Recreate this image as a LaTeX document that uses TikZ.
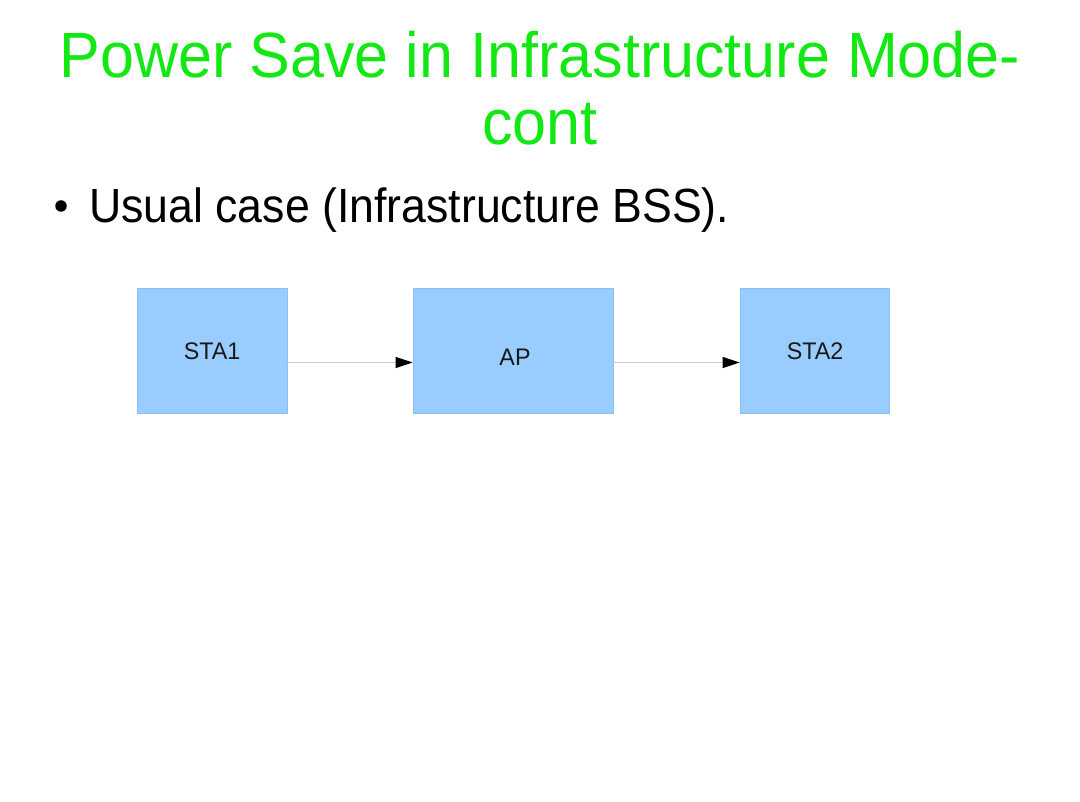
\documentclass[tikz,border=0pt]{standalone}
\usepackage{fontspec}
\setmainfont{Liberation Sans}
\usetikzlibrary{arrows.meta}
\definecolor{titlegreen}{RGB}{20,232,20}
\definecolor{boxfill}{RGB}{153,204,255}
\definecolor{boxdraw}{RGB}{140,190,240}
\definecolor{linegray}{RGB}{205,205,205}
\tikzset{
  box/.style={draw=boxdraw, fill=boxfill, line width=0.8pt, inner sep=0pt},
  boxlabel/.style={font=\fontsize{24}{28}\selectfont, text=black!90, inner sep=0pt, xscale=0.97},
  titletext/.style={anchor=base, text=titlegreen, font=\fontsize{64}{70}\selectfont, inner sep=0pt, xscale=0.954},
  conn/.style={draw=linegray, line width=1pt, -{Triangle[length=17pt,width=11pt,color=black]}},
}
\begin{document}
\begin{tikzpicture}[x=1pt,y=-1pt]
\useasboundingbox[fill=white] (0,0) rectangle (1080,802);
% title
\node[titletext] (title1) at (540,78) {Power Save in Infrastructure Mode-};
\node[titletext] (title2) at (540,145) {cont};
% bullet
\node[circle, fill=black, inner sep=0pt, outer sep=0pt, minimum size=11.5pt] (bullet) at (61,206) {};
\node[anchor=base west, font=\fontsize{48}{52}\selectfont, inner sep=0pt, xscale=0.93] (bul) at (89,223) {Usual case (Infrastructure BSS).};
% boxes
\node[box, minimum width=150pt, minimum height=125pt] (sta1) at (212,350.5) {};
\node[box, minimum width=200pt, minimum height=125pt] (ap) at (513,350.5) {};
\node[box, minimum width=149pt, minimum height=125pt] (sta2) at (814.5,350.5) {};
\node[boxlabel] (l1) at (212,351) {STA1};
\node[boxlabel] (l2) at (515,357) {AP};
\node[boxlabel] (l3) at (815,351) {STA2};
% connectors
\draw[conn] ([yshift=-12pt]sta1.east) -- ([yshift=-12pt]ap.west);
\draw[conn] ([yshift=-12pt]ap.east) -- ([yshift=-12pt]sta2.west);
\end{tikzpicture}
\end{document}
